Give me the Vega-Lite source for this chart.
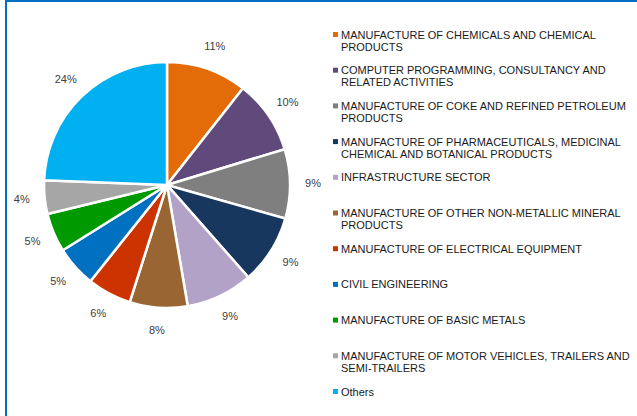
{
  "$schema": "https://vega.github.io/schema/vega-lite/v6.json",
  "autosize": "none",
  "width": 322,
  "height": 368,
  "padding": {"left": 6, "top": 1, "right": 309, "bottom": 47},
  "background": "white",
  "config": {
    "view": {"stroke": null},
    "font": "Liberation Sans",
    "style": {"guide-label": {"dy": -5, "lineHeight": 12}}
  },
  "data": {
    "values": [
      {"order": 1, "sector": "MANUFACTURE OF CHEMICALS AND CHEMICAL\nPRODUCTS", "share": 10.6, "label": "11%"},
      {"order": 2, "sector": "COMPUTER PROGRAMMING, CONSULTANCY AND\nRELATED ACTIVITIES", "share": 9.7, "label": "10%"},
      {"order": 3, "sector": "MANUFACTURE OF COKE AND REFINED PETROLEUM\nPRODUCTS", "share": 9.1, "label": "9%"},
      {"order": 4, "sector": "MANUFACTURE OF PHARMACEUTICALS, MEDICINAL\nCHEMICAL AND BOTANICAL PRODUCTS", "share": 9.1, "label": "9%"},
      {"order": 5, "sector": "INFRASTRUCTURE SECTOR", "share": 8.8, "label": "9%"},
      {"order": 6, "sector": "MANUFACTURE OF OTHER NON-METALLIC MINERAL\nPRODUCTS", "share": 7.6, "label": "8%"},
      {"order": 7, "sector": "MANUFACTURE OF ELECTRICAL EQUIPMENT", "share": 5.8, "label": "6%"},
      {"order": 8, "sector": "CIVIL ENGINEERING", "share": 5.4, "label": "5%"},
      {"order": 9, "sector": "MANUFACTURE OF BASIC METALS", "share": 5.1, "label": "5%"},
      {"order": 10, "sector": "MANUFACTURE OF MOTOR VEHICLES, TRAILERS AND\nSEMI-TRAILERS", "share": 4.4, "label": "4%"},
      {"order": 11, "sector": "Others", "share": 24.4, "label": "24%"}
    ]
  },
  "layer": [
    {
      "data": {"values": [{"frame": "border"}]},
      "mark": {"type": "rect", "fill": null, "stroke": "#0070C0", "strokeWidth": 2, "x": 0, "y": 0, "x2": {"expr": "width + 320"}, "y2": {"expr": "height + 60"}},
      "encoding": {}
    },
    {
      "mark": {"type": "arc", "outerRadius": 123, "stroke": "white", "strokeWidth": 2.5},
      "encoding": {
        "theta": {"field": "share", "type": "quantitative", "stack": true},
        "order": {"field": "order", "type": "quantitative"},
        "color": {
          "field": "sector",
          "type": "nominal",
          "scale": {
            "domain": [
              "MANUFACTURE OF CHEMICALS AND CHEMICAL\nPRODUCTS",
              "COMPUTER PROGRAMMING, CONSULTANCY AND\nRELATED ACTIVITIES",
              "MANUFACTURE OF COKE AND REFINED PETROLEUM\nPRODUCTS",
              "MANUFACTURE OF PHARMACEUTICALS, MEDICINAL\nCHEMICAL AND BOTANICAL PRODUCTS",
              "INFRASTRUCTURE SECTOR",
              "MANUFACTURE OF OTHER NON-METALLIC MINERAL\nPRODUCTS",
              "MANUFACTURE OF ELECTRICAL EQUIPMENT",
              "CIVIL ENGINEERING",
              "MANUFACTURE OF BASIC METALS",
              "MANUFACTURE OF MOTOR VEHICLES, TRAILERS AND\nSEMI-TRAILERS",
              "Others"
            ],
            "range": ["#E36C09", "#604A7B", "#7F7F7F", "#17375E", "#B3A2C7", "#996633", "#CC3300", "#0070C0", "#009900", "#A6A6A6", "#00B0F0"]
          },
          "legend": {
            "title": null,
            "orient": "none",
            "legendX": 324,
            "legendY": 28,
            "symbolType": "square",
            "symbolSize": 25,
            "symbolStrokeWidth": 0,
            "labelFontSize": 11,
            "labelFont": "Liberation Sans",
            "labelColor": "#1a1a1a",
            "labelBaseline": "top",
            "labelOffset": 0,
            "labelLimit": 320,
            "gridAlign": "all",
            "rowPadding": 11.7,
            "labelExpr": "split(datum.label, '\\n')"
          }
        }
      }
    },
    {
      "mark": {"type": "text", "radius": 146, "fontSize": 11, "color": "#404040", "font": "Liberation Sans"},
      "encoding": {
        "theta": {"field": "share", "type": "quantitative", "stack": true},
        "order": {"field": "order", "type": "quantitative"},
        "text": {"field": "label"}
      }
    }
  ]
}
